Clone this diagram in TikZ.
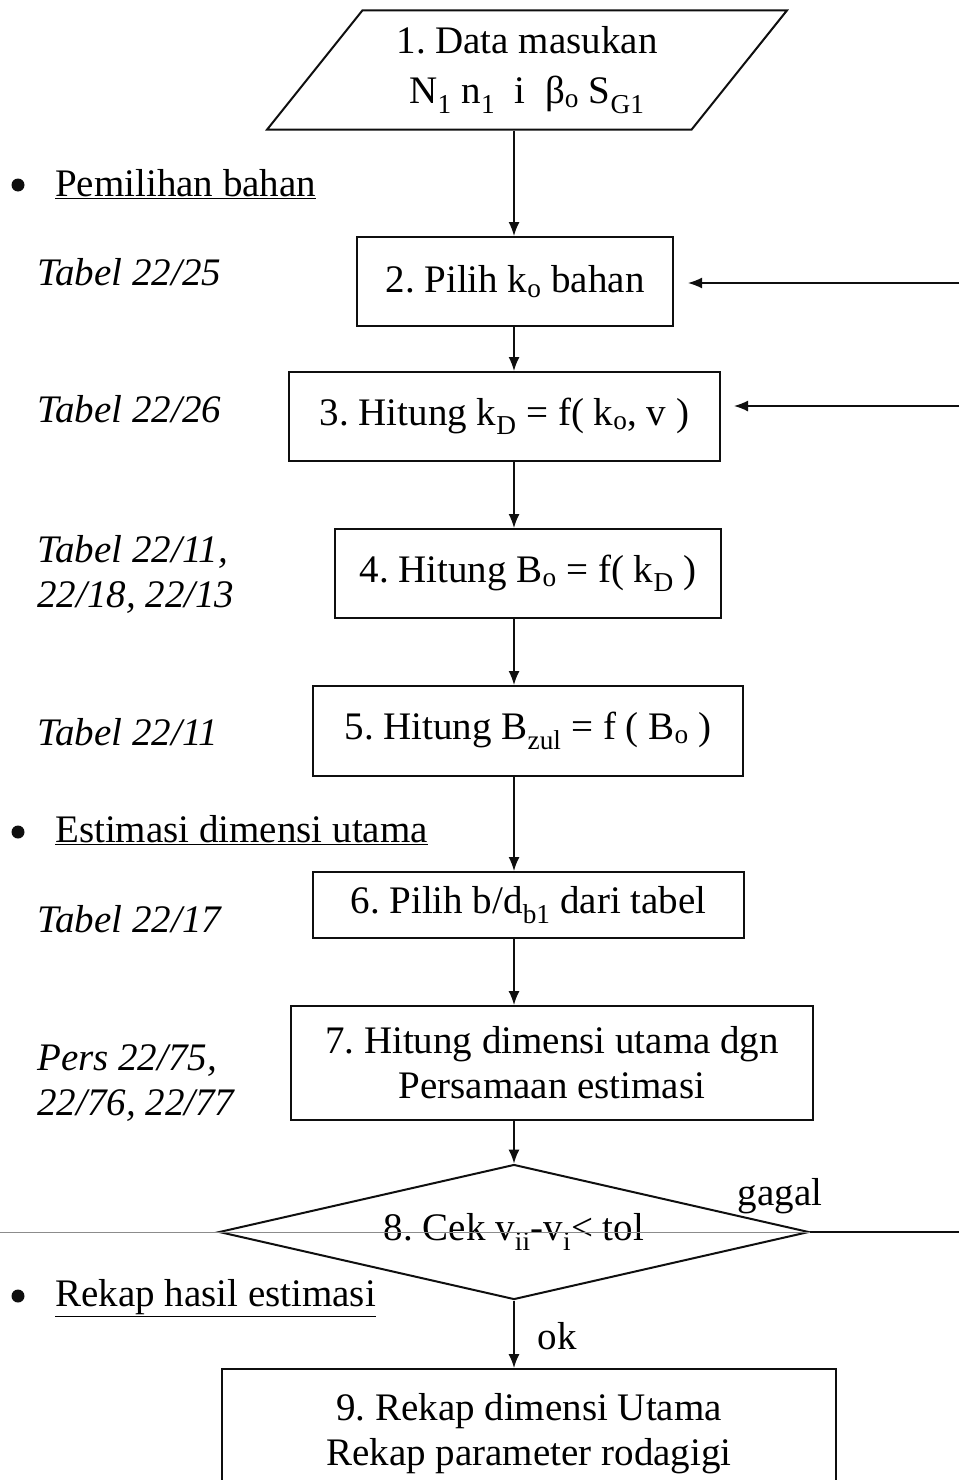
\documentclass[tikz,border=0pt]{standalone}
\usepackage{fontspec}
\setmainfont{Liberation Serif}
\usepackage{tikz}
\usetikzlibrary{shapes.geometric, arrows.meta, positioning, calc}
\frenchspacing
\definecolor{mydark}{RGB}{15,15,15}
\definecolor{mygray}{RGB}{140,140,140}
\tikzset{
  box/.style={rectangle, draw=mydark, line width=2pt, align=center,
    inner sep=0pt, font=\fontsize{39}{45}\selectfont},
  inbox/.style={trapezium, trapezium left angle=49, trapezium right angle=131,
    trapezium stretches=true, minimum width=520pt, minimum height=119pt,
    draw=mydark, line width=2pt, align=center, inner sep=0pt,
    font=\fontsize{39}{50}\selectfont},
  decision/.style={diamond, draw=mydark, line width=2pt, aspect=4.37,
    minimum width=590pt, minimum height=135pt, inner sep=0pt,
    font=\fontsize{39}{45}\selectfont},
  dot/.style={circle, fill=mydark, minimum size=13pt, inner sep=0pt},
  section/.style={anchor=base west, inner sep=0pt, font=\fontsize{39}{45}\selectfont},
  side/.style={anchor=base west, inner sep=0pt, align=left,
    font=\fontsize{39}{45}\selectfont\itshape},
  label/.style={inner sep=0pt, font=\fontsize{39}{45}\selectfont},
  arrow/.style={-{Latex[length=14pt, width=11pt]}, line width=1.5pt, color=mydark},
  line/.style={line width=2pt, color=mydark},
  thinline/.style={line width=1pt, color=mygray}
}

\begin{document}
\begin{tikzpicture}[x=1pt, y=-1pt]
  \useasboundingbox (0,0) rectangle (959,1480);
  \clip (0,0) rectangle (959,1480);
  \coordinate (axis) at (514,0);

  % Input data
  \node[inbox] (in1) at (527,70) {1. Data masukan\\N\textsubscript{1} n\textsubscript{1}~ i~ β\textsubscript{o} S\textsubscript{G1}};

  % Pemilihan bahan
  \node[dot] (dot1) at (18,185) {};
  \node[section] (sec1) at (55,196) {\underline{Pemilihan bahan}};
  \node[side] (t2) at (37,285) {Tabel 22/25};
  \node[box, minimum width=316pt, minimum height=89pt] (b2) at (515,281.5) {2. Pilih k\textsubscript{o} bahan};
  \node[side] (t3) at (37,422) {Tabel 22/26};
  \node[box, minimum width=431pt, minimum height=89pt] (b3) at (504.5,416.5) {3. Hitung k\textsubscript{D} = f( k\textsubscript{o}, v )};
  \node[side] (t4) at (37,607) {Tabel 22/11,\\22/18, 22/13};
  \node[box, minimum width=386pt, minimum height=89pt] (b4) at (528,573.5) {4. Hitung B\textsubscript{o} = f( k\textsubscript{D} )};
  \node[side] (t5) at (37,745) {Tabel 22/11};
  \node[box, minimum width=430pt, minimum height=90pt] (b5) at (528,731) {5. Hitung B\textsubscript{zul} = f ( B\textsubscript{o} )};

  % Estimasi dimensi utama
  \node[dot] (dot2) at (18,832) {};
  \node[section] (sec2) at (55,842) {\underline{Estimasi dimensi utama}};
  \node[side] (t6) at (37,932) {Tabel 22/17};
  \node[box, minimum width=431pt, minimum height=66pt] (b6) at (528.5,905) {6. Pilih b/d\textsubscript{b1} dari tabel};
  \node[side] (t7) at (37,1115) {Pers 22/75,\\22/76, 22/77};
  \node[box, minimum width=522pt, minimum height=114pt] (b7) at (552,1063) {7. Hitung dimensi utama dgn\\Persamaan estimasi};
  \node[decision] (d8) at (514,1232) {8. Cek v\textsubscript{ii}-v\textsubscript{i}< tol};
  \node[label] (gagal) at (780,1196) {gagal};

  % Rekap hasil estimasi
  \node[dot] (dot3) at (18,1296) {};
  \node[section] (sec3) at (55,1306) {\underline{Rekap hasil estimasi}};
  \node[box, minimum width=614pt, minimum height=130pt] (b9) at (529,1434) {9. Rekap dimensi Utama\\Rekap parameter rodagigi};
  \node[label] (ok) at (557,1336) {ok};

  % Main flow
  \draw[arrow] (axis |- in1.south) -- (axis |- b2.north);
  \draw[arrow] (axis |- b2.south) -- (axis |- b3.north);
  \draw[arrow] (axis |- b3.south) -- (axis |- b4.north);
  \draw[arrow] (axis |- b4.south) -- (axis |- b5.north);
  \draw[arrow] (axis |- b5.south) -- (axis |- b6.north);
  \draw[arrow] (axis |- b6.south) -- (axis |- b7.north);
  \draw[arrow] (axis |- b7.south) -- (d8.north);
  \draw[arrow] (d8.south) -- (d8.south |- b9.north);

  % Feedback lines
  \coordinate (fb2) at (959,283);
  \coordinate (fb3) at (959,406);
  \coordinate (fb8) at (959,1232);
  \coordinate (l8) at (0,1232);
  \draw[arrow] (fb2) -- ([xshift=14pt]b2.east |- fb2);
  \draw[arrow] (fb3) -- ([xshift=13pt]b3.east |- fb3);
  \draw[line] (d8.east) -- (fb8);
  \draw[thinline] (l8) -- (d8.east);
\end{tikzpicture}
\end{document}
